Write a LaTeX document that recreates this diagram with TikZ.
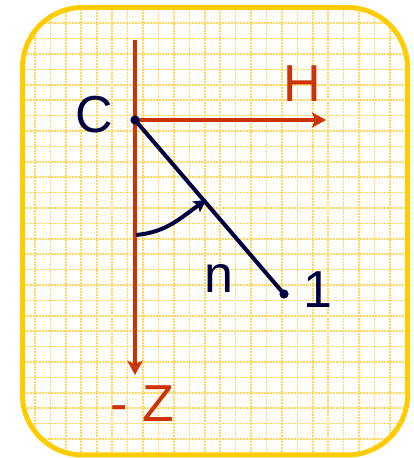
\documentclass[tikz,border=0pt]{standalone}
\usepackage{fontspec}
\setmainfont{Liberation Sans}
\usepackage{tikz}
\usetikzlibrary{arrows.meta}
\definecolor{bframe}{HTML}{FFCC00}
\definecolor{bgrid}{HTML}{FFD75A}
\definecolor{bred}{HTML}{CC3300}
\definecolor{bnavy}{HTML}{000040}
\tikzstyle{letter} = [inner sep=0pt, anchor=base, font=\fontsize{26}{30}\selectfont]
\tikzstyle{axis} = [draw, bred, line width=2pt, -{Stealth[length=7pt, width=7.5pt, inset=1.5pt]}]
\tikzstyle{bond} = [draw, bnavy, line width=2pt]
\tikzstyle{angle} = [bond, -{Stealth[length=6pt, width=6.5pt, inset=1.2pt]}]
\tikzstyle{gridline} = [bgrid, line width=0.8pt, dash pattern=on 0.9pt off 0.6pt]

\begin{document}
\begin{tikzpicture}[x=0.5pt, y=0.5pt]
    \useasboundingbox (0,0) rectangle (413,458);
    % frame with grid
    \fill[white, rounded corners=30pt] (22.5,3) rectangle (407.5,450.5);
    \begin{scope}
        \clip[rounded corners=30pt] (22.5,3) rectangle (407.5,450.5);
        \foreach \i in {0,...,23} \draw[gridline] (35+15.43*\i, 0) -- (35+15.43*\i, 458);
        \foreach \j in {0,...,27} \draw[gridline] (0, 434.7-15.4*\j) -- (413, 434.7-15.4*\j);
    \end{scope}
    \draw[bframe, line width=2.5pt, rounded corners=30pt] (22.5,3) rectangle (407.5,450.5);

    % points
    \coordinate (C) at (135,338);
    \coordinate (P1) at (284,164);
    \coordinate (Ztop) at (135,418);
    \coordinate (Zend) at (135,83);
    \coordinate (Hend) at (326,338);
    \coordinate (a0) at (136,223);
    \coordinate (a1) at (206,258);

    % axes
    \path[axis] (Ztop) -- (Zend);
    \path[axis] (C) -- (Hend);

    % bond and angle
    \path[bond] (C) -- (P1);
    \path[angle] (a0) to[out=5, in=215] (a1);
    \fill[bnavy] (C) circle (2.3pt);
    \fill[bnavy] (P1) circle (2.3pt);

    % letters
    \node[letter, bnavy] at (94,325) (lC) {C};
    \node[letter, bred] at (302.5,356) (lH) {H};
    \node[letter, bnavy] at (218.5,165) (ln) {n};
    \node[letter, bnavy] at (318,150) (l1) {1};
    \node[letter, bred, anchor=base west] at (110,36) (lZ) {- Z};
\end{tikzpicture}
\end{document}
